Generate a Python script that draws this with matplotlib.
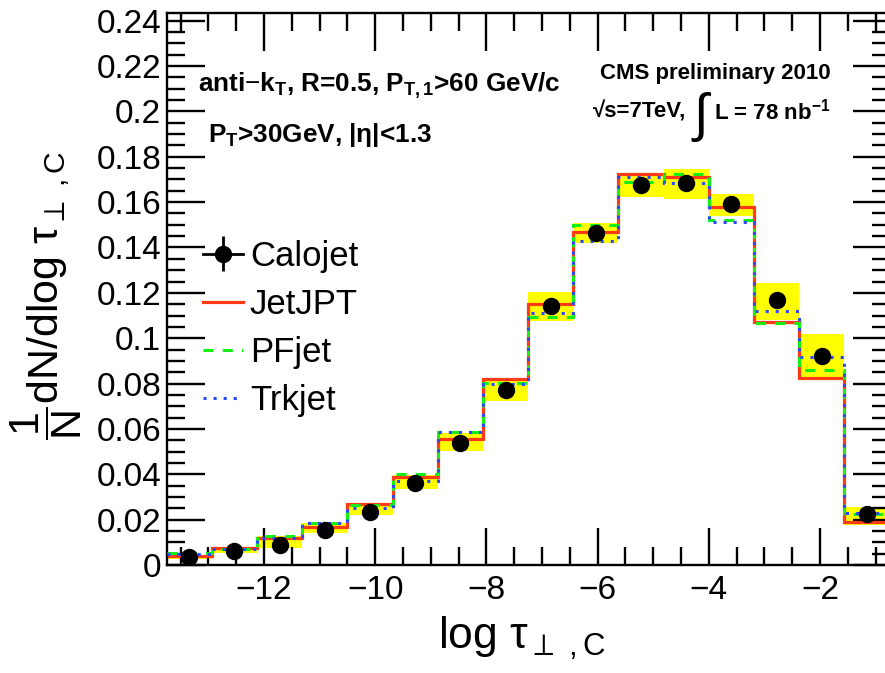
import numpy as np
import matplotlib
matplotlib.use("Agg")
import matplotlib.pyplot as plt
from matplotlib.ticker import MultipleLocator, FuncFormatter

plt.rcParams['font.family'] = ['Liberation Sans', 'DejaVu Sans']
plt.rcParams['mathtext.fontset'] = 'custom'
plt.rcParams['mathtext.rm'] = 'Liberation Sans'
plt.rcParams['mathtext.it'] = 'Liberation Sans:italic'
plt.rcParams['mathtext.bf'] = 'Liberation Sans:bold'
plt.rcParams['mathtext.sf'] = 'DejaVu Sans:bold'

# binning in log(tau_perp,C)
bin_lo, bin_hi, n_bins = -13.75, -0.75, 16

# normalised distributions per jet type
calojet = [0.0035, 0.0060, 0.0088, 0.0154, 0.0235, 0.0363, 0.0537, 0.0772,
           0.1142, 0.1464, 0.1675, 0.1683, 0.1592, 0.1168, 0.0922, 0.0223]
jetjpt = [0.0040, 0.0075, 0.0118, 0.0169, 0.0268, 0.0387, 0.0554, 0.0819,
          0.1151, 0.1470, 0.1724, 0.1709, 0.1577, 0.1071, 0.0826, 0.0191]
pfjet = [0.0052, 0.0070, 0.0128, 0.0184, 0.0265, 0.0400, 0.0588, 0.0804,
         0.1095, 0.1500, 0.1687, 0.1723, 0.1520, 0.1066, 0.0860, 0.0223]
trkjet = [0.0049, 0.0070, 0.0118, 0.0184, 0.0250, 0.0370, 0.0588, 0.0800,
          0.1110, 0.1429, 0.1712, 0.1686, 0.1514, 0.1119, 0.0918, 0.0231]
# systematic band on the calojet measurement
syst_lo = [0.0028, 0.0054, 0.0074, 0.0143, 0.0220, 0.0335, 0.0504, 0.0724,
           0.1077, 0.1418, 0.1621, 0.1614, 0.1540, 0.1080, 0.0823, 0.0176]
syst_hi = [0.0044, 0.0074, 0.0128, 0.0184, 0.0265, 0.0397, 0.0583, 0.0816,
           0.1205, 0.1507, 0.1730, 0.1745, 0.1636, 0.1242, 0.1019, 0.0257]

edges = np.linspace(bin_lo, bin_hi, n_bins + 1)
centers = 0.5 * (edges[:-1] + edges[1:])
widths = np.diff(edges)

W, H = 885, 673
fig = plt.figure(figsize=(W / 100, H / 100), dpi=100)
L, R, T, B = 166.7, 889.5, 13, 565
ax = fig.add_axes([L / W, 1 - B / H, (R - L) / W, (B - T) / H])

RED = '#ff3a14'
GREEN = '#14f014'
BLUE = '#2a46ff'
YELLOW = '#ffff00'

lo = np.array(syst_lo)
hi = np.array(syst_hi)
ax.bar(edges[:-1], hi - lo, bottom=lo, width=widths, align='edge',
       color=YELLOW, linewidth=0, zorder=1)

ax.stairs(jetjpt, edges, baseline=None, color=RED, lw=2.3, zorder=2,
          label='JetJPT')
ax.stairs(pfjet, edges, baseline=None, color=GREEN, lw=2.2, zorder=3,
          linestyle=(0, (3.3, 3.0)), label='PFjet')
ax.stairs(trkjet, edges, baseline=None, color=BLUE, lw=2.2, zorder=4,
          linestyle=(0, (1.0, 2.3)), label='Trkjet')
ax.plot(centers, calojet, 'o', color='k', ms=11.5, zorder=5)

# legend proxy for the calojet points (marker with error bars)
h_calo = ax.errorbar([np.nan], [np.nan], yerr=[[1.0], [1.0]], fmt='o-',
                     color='k', ms=11.5, lw=2.0, elinewidth=2.0,
                     label='Calojet')

handles, labels = ax.get_legend_handles_labels()
order = [labels.index(n) for n in ['Calojet', 'JetJPT', 'PFjet', 'Trkjet']]
leg = ax.legend([handles[i] for i in order], [labels[i] for i in order],
                loc='upper left', bbox_to_anchor=((203 - L) / (R - L), (B - 240) / (B - T)),
                frameon=False, fontsize=25, handlelength=1.15, handletextpad=0.2,
                labelspacing=0.43, borderpad=0, borderaxespad=0)

ax.set_xlim(bin_lo, bin_hi)
ax.set_ylim(0, 0.2434)

ax.xaxis.set_major_locator(MultipleLocator(2))
ax.xaxis.set_minor_locator(MultipleLocator(0.5))
ax.yaxis.set_major_locator(MultipleLocator(0.02))
ax.yaxis.set_minor_locator(MultipleLocator(0.005))
ax.yaxis.set_major_formatter(FuncFormatter(lambda v, p: '%g' % round(v, 4)))
ax.xaxis.set_major_formatter(FuncFormatter(lambda v, p: ('%g' % v).replace('-', '\u2212')))

ax.tick_params(which='both', direction='in', top=True, right=True, width=1.7)
ax.tick_params(which='major', length=27)
ax.tick_params(which='minor', length=13)
ax.tick_params(axis='x', which='major', labelsize=24, pad=7)
ax.tick_params(axis='y', which='major', labelsize=24, pad=4)
for s in ax.spines.values():
    s.set_linewidth(1.7)

tau_sub = r'\mathrm{\tau}_{\mathsf{\perp}\ ,\mathrm{C}}'
ax.set_xlabel(r'log $' + tau_sub + '$', fontsize=32, va='center')
ax.xaxis.set_label_coords((522 - L) / (R - L), (B - 638) / (B - T))
ax.set_ylabel(r'$\dfrac{1}{\mathrm{N}}$dN/dlog $' + tau_sub + '$', fontsize=31, va='center')
ax.yaxis.set_label_coords((46 - L) / (R - L), (B - 295) / (B - T))


def fx(px):
    return (px - L) / (R - L)


def fy(py):
    return (B - py) / (B - T)


ax.text(fx(198), fy(86), r'anti$-$k$_{\mathbf{T}}$, R=0.5, P$_{\mathbf{T,1}}$>60 GeV/c',
        transform=ax.transAxes, fontsize=18.8, fontweight='bold', va='center', ha='left')
ax.text(fx(208), fy(135), r'P$_{\mathbf{T}}$>30GeV, |$\mathbf{\eta}$|<1.3',
        transform=ax.transAxes, fontsize=18.8, fontweight='bold', va='center', ha='left')
ax.text(fx(715), fy(74), 'CMS preliminary 2010', transform=ax.transAxes,
        fontsize=16, fontweight='bold', va='center', ha='center')
ax.text(fx(593), fy(112), '\u221as=7TeV,', transform=ax.transAxes,
        fontsize=16, fontweight='bold', va='center', ha='left')
ax.text(fx(701), fy(117), '\u222b', transform=ax.transAxes,
        fontsize=38, va='center', ha='center')
ax.text(fx(714), fy(112), r'L = 78 nb$^{\mathbf{-1}}$', transform=ax.transAxes,
        fontsize=16, fontweight='bold', va='center', ha='left')

fig.savefig('out.png', dpi=100)
